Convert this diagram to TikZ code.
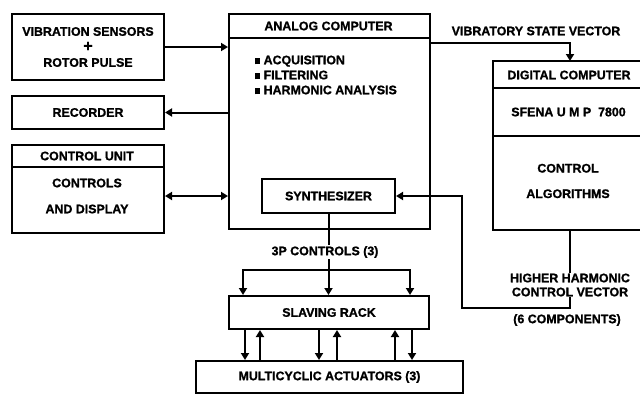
\documentclass[tikz,border=0pt]{standalone}
\usepackage{fontspec}
\setmainfont[BoldFeatures={FakeBold=1.2}]{Liberation Sans}
\usetikzlibrary{arrows.meta}
\begin{document}
\begin{tikzpicture}[x=1pt,y=-1pt,
  font=\fontsize{12.4}{15.5}\selectfont\bfseries,
  box/.style={draw, line width=2pt, inner sep=0pt, anchor=north west, align=center},
  lbl/.style={inner sep=1pt, align=center},
  conn/.style={line width=2pt},
  arr/.style={conn, -{Triangle[length=7pt,width=8pt]}},
  darr/.style={conn, {Triangle[length=7pt,width=8pt]}-{Triangle[length=7pt,width=8pt]}},
]
\useasboundingbox (0,0) rectangle (640,394);
% left column
\node[box, minimum width=152pt, minimum height=66pt] (vib) at (11,13) {VIBRATION SENSORS\\{\fontsize{16}{15.5}\selectfont +}\\ROTOR PULSE};
\node[box, minimum width=152pt, minimum height=33pt] (rec) at (11,95) {RECORDER};
\node[box, minimum width=152pt, minimum height=88pt] (cu) at (11,144) {};
\draw[conn] ([yshift=-23pt]cu.north west) -- ([yshift=-23pt]cu.north east);
\node[lbl] (cut) at (87,156) {CONTROL UNIT};
\node[lbl] (cud) at (87,196) {CONTROLS\\[10.5pt]AND DISPLAY};
% analog computer
\node[box, minimum width=201pt, minimum height=215pt] (an) at (228,13) {};
\draw[conn] ([yshift=-25pt]an.north west) -- ([yshift=-25pt]an.north east);
\node[lbl] (ant) at (328.5,26) {ANALOG COMPUTER};
\node[lbl, anchor=west, align=left, font=\fontsize{12.4}{15}\selectfont\bfseries] (anl) at (254,75)
  {\rule{5pt}{6pt} ACQUISITION\\\rule{5pt}{6pt} FILTERING\\\rule{5pt}{6pt} HARMONIC ANALYSIS};
\node[box, minimum width=133pt, minimum height=34pt] (syn) at (261,178) {SYNTHESIZER};
% digital computer
\node[box, draw=none, minimum width=147pt, minimum height=167pt] (dig) at (493,61) {};
\draw[conn] (dig.north east) -- (dig.north west) -- (dig.south west) -- (dig.south east);
\draw[conn] (dig.west |- 0,88) -- (dig.east |- 0,88);
\draw[conn] (dig.west |- 0,136) -- (dig.east |- 0,136);
\node[lbl] (digt) at (569,75) {DIGITAL COMPUTER};
\node[lbl] (sfena) at (568.5,112) {SFENA U M P \ 7800};
\node[lbl] (calg) at (568,181) {CONTROL\\[10pt]ALGORITHMS};
% slaving rack and actuators
\node[box, minimum width=200pt, minimum height=33pt] (slav) at (228,295) {SLAVING RACK};
\node[box, minimum width=267pt, minimum height=32pt] (act) at (195,360) {MULTICYCLIC ACTUATORS (3)};
% connectors
\draw[arr] (vib.east) -- (vib.east -| an.west);
\draw[arr] (rec.east -| an.west) -- (rec.east);
\draw[darr] (cu.east |- syn.east) -- (an.west |- syn.east);
\coordinate (vsv) at (570,43);
\draw[arr] (an.east |- vsv) -- (vsv) -- (vsv |- dig.north);
\node[lbl] (vsvl) at (536,31) {VIBRATORY STATE VECTOR};
\coordinate (split) at (syn.south |- 0,270);
\coordinate (sl) at (243,270);
\coordinate (sr) at (410,270);
\draw[conn] (syn.south) -- (split);
\node[lbl, fill=white] (p3) at (325,252) {3P CONTROLS (3)};
\draw[arr] (split) -- (split |- slav.north);
\draw[arr] (split) -- (sl) -- (sl |- slav.north);
\draw[arr] (split) -- (sr) -- (sr |- slav.north);
\foreach \x in {245,319,412} \draw[arr] (\x,0 |- slav.south) -- (\x,0 |- act.north);
\foreach \x in {260,337,395} \draw[arr] (\x,0 |- act.north) -- (\x,0 |- slav.south);
\coordinate (hb) at (570,308);
\coordinate (hl) at (462,308);
\draw[arr] (dig.south -| hb) -- (hb) -- (hl) -- (hl |- syn.east) -- (syn.east);
\node[lbl, fill=white, font=\fontsize{12.4}{14}\selectfont\bfseries] (hhc) at (570,285) {HIGHER HARMONIC\\CONTROL VECTOR};
\node[lbl] (comp) at (567,320) {(6 COMPONENTS)};
\end{tikzpicture}
\end{document}
